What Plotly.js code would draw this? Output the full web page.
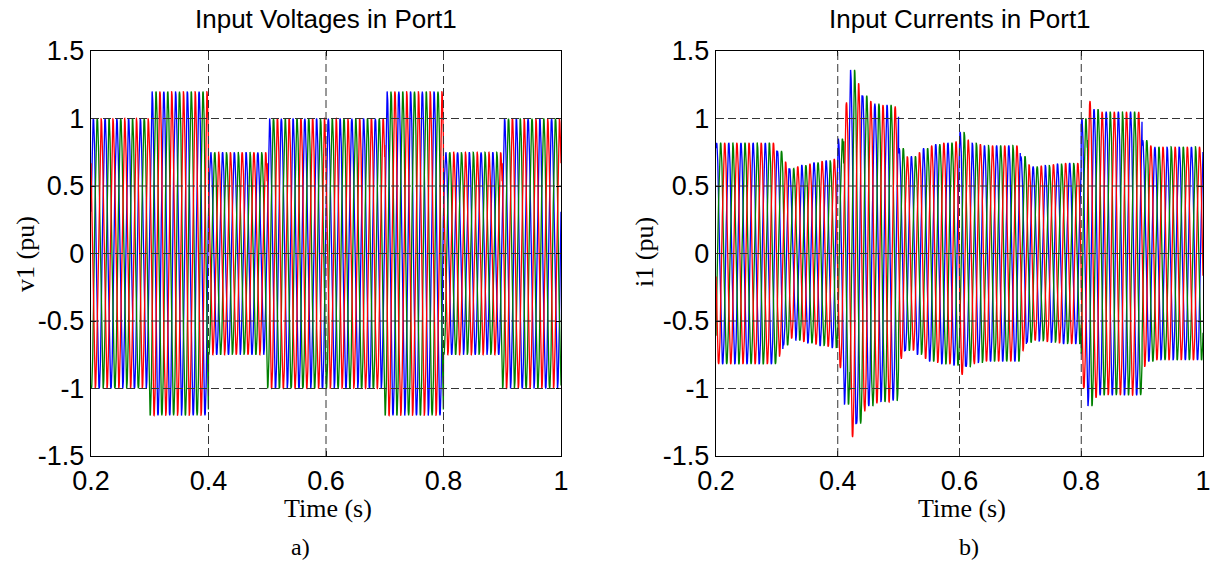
<!DOCTYPE html>
<html>
<head>
<meta charset="utf-8">
<script src="https://cdn.plot.ly/plotly-3.0.1.min.js"></script>
<style>html,body{margin:0;padding:0;background:#fff;}#chart{width:1215px;height:562px;}</style>
</head>
<body>
<div id="chart"></div>
<script>
// ---------------- data ----------------
const phaseNames = ['a', 'b', 'c'];
const phaseColors = ['#0000ff', '#008000', '#ff0000'];
const phaseShiftDeg = [0, -120, 120];
const freqHz = 50;
const timeStart = 0.2;
const timeEnd = 1.0;
const voltPhaseDeg = 18;      // angle of phase a at t = 0 (voltage)
const currPhaseDeg = 72;      // angle of phase a at t = 0 (current)

// Port1 voltage peak (pu), one value per 0.1 s segment starting at voltSegStart
const voltSegStart = [0.2, 0.3, 0.4, 0.5, 0.6, 0.7, 0.8, 0.9];
const voltPeak     = [1.0, 1.2, 0.75, 1.0, 1.0, 1.2, 0.75, 1.0];

// Port1 current peak (pu), one value per 10 ms window starting at 0.2 s
const currWindow = 0.01;
const currPeak = [
  0.82, 0.82, 0.82, 0.82, 0.82, 0.82, 0.82, 0.82, 0.82, 0.82,   // 0.20-0.30
  0.76, 0.68, 0.63, 0.645, 0.655, 0.665, 0.675, 0.685, 0.69, 0.70, // 0.30-0.40
  0.85, 1.12, 1.36, 1.26, 1.17, 1.13, 1.11, 1.10, 1.10, 1.09,   // 0.40-0.50
  0.78, 0.72, 0.72, 0.75, 0.78, 0.80, 0.81, 0.82, 0.82, 0.83,   // 0.50-0.60
  0.90, 0.84, 0.82, 0.81, 0.80, 0.80, 0.80, 0.80, 0.80, 0.80,   // 0.60-0.70
  0.72, 0.66, 0.645, 0.65, 0.655, 0.66, 0.665, 0.67, 0.67, 0.67, // 0.70-0.80
  1.00, 1.13, 1.07, 1.05, 1.05, 1.05, 1.05, 1.05, 1.05, 1.05,   // 0.80-0.90
  0.84, 0.80, 0.79, 0.79, 0.79, 0.79, 0.79, 0.79, 0.79, 0.79    // 0.90-1.00
];

const xTickVals = [0.2, 0.4, 0.6, 0.8, 1.0];
const xTickText = ['0.2', '0.4', '0.6', '0.8', '1'];
const yTickVals = [-1.5, -1, -0.5, 0, 0.5, 1, 1.5];
const yTickText = ['-1.5', '-1', '-0.5', '0', '0.5', '1', '1.5'];
const xGridVals = [0.4, 0.6, 0.8];
const yGridVals = [-1, -0.5, 0, 0.5, 1];

const titleLeft = 'Input Voltages in Port1';
const titleRight = 'Input Currents in Port1';
const yTitleLeft = 'v1 (pu)';
const yTitleRight = 'i1 (pu)';
const xTitle = 'Time (s)';
const panelLabels = ['a)', 'b)'];

// ---------------- build waveforms ----------------
const dt = 0.0002;
const tArr = [];
for (let i = 0; ; i++) { const t = timeStart + i * dt; if (t > timeEnd + 1e-9) break; tArr.push(+t.toFixed(6)); }

function voltAmp(t) {
  let idx = 0;
  for (let k = 0; k < voltSegStart.length; k++) if (t >= voltSegStart[k] - 1e-9) idx = k;
  return voltPeak[idx];
}
function currAmp(t) {
  let idx = Math.floor((t - timeStart) / currWindow + 1e-9);
  idx = Math.max(0, Math.min(currPeak.length - 1, idx));
  return currPeak[idx];
}
function wave(ampFn, baseDeg, p) {
  return tArr.map(t => ampFn(t) * Math.sin((2 * Math.PI * freqHz * t) + (baseDeg + phaseShiftDeg[p]) * Math.PI / 180));
}

const lineW = 1.3;
const traces = [];
for (let p = 0; p < 3; p++) {
  traces.push({x: tArr, y: wave(voltAmp, voltPhaseDeg, p), type: 'scatter', mode: 'lines',
    name: 'v' + phaseNames[p], line: {color: phaseColors[p], width: lineW}, xaxis: 'x', yaxis: 'y', showlegend: false, hoverinfo: 'skip'});
}
for (let p = 0; p < 3; p++) {
  traces.push({x: tArr, y: wave(currAmp, currPhaseDeg, p), type: 'scatter', mode: 'lines',
    name: 'i' + phaseNames[p], line: {color: phaseColors[p], width: lineW}, xaxis: 'x2', yaxis: 'y2', showlegend: false, hoverinfo: 'skip'});
}

// ---------------- layout ----------------
const W = 1215, H = 562;
const px = v => v / W, py = v => 1 - v / H;
const xDomL = [px(91), px(561)], xDomR = [px(716), px(1203)], yDom = [py(456), py(51)];
const sans = 'Liberation Sans, Arial, Helvetica, sans-serif';
const serif = 'Liberation Serif, Times New Roman, serif';

function xAx(dom, anchor) {
  return {domain: dom, anchor: anchor, range: [timeStart, timeEnd], tickmode: 'array', tickvals: xTickVals, ticktext: xTickText,
    ticks: 'inside', ticklen: 5, tickwidth: 1, tickcolor: '#000', showline: true, linecolor: '#000', linewidth: 1.2,
    mirror: 'ticks', showgrid: false, zeroline: false, tickfont: {family: sans, size: 27, color: '#000'}, fixedrange: true};
}
function yAx(anchor) {
  return {domain: yDom, anchor: anchor, range: [-1.5, 1.5], tickmode: 'array', tickvals: yTickVals, ticktext: yTickText,
    ticks: 'inside', ticklen: 5, tickwidth: 1, tickcolor: '#000', showline: true, linecolor: '#000', linewidth: 1.2,
    mirror: 'ticks', showgrid: false, zeroline: false, tickfont: {family: sans, size: 27, color: '#000'}, fixedrange: true};
}

const gridLine = {color: '#333333', width: 1, dash: '8px,4px'};
const shapes = [];
[['x', 'y'], ['x2', 'y2']].forEach(([xa, ya]) => {
  xGridVals.forEach(g => shapes.push({type: 'line', layer: 'above', xref: xa, yref: ya + ' domain', x0: g, x1: g, y0: 0, y1: 1, line: gridLine}));
  yGridVals.forEach(g => shapes.push({type: 'line', layer: 'above', xref: xa + ' domain', yref: ya, x0: 0, x1: 1, y0: g, y1: g, line: gridLine}));
});

const ann = (text, x, y, font, extra) => Object.assign({text: text, xref: 'paper', yref: 'paper', x: px(x), y: py(y),
  xanchor: 'center', yanchor: 'middle', showarrow: false, font: font}, extra || {});
const annotations = [
  ann(titleLeft, 326, 19, {family: sans, size: 26, color: '#000'}),
  ann(titleRight, 959.5, 19, {family: sans, size: 26, color: '#000'}),
  ann(xTitle, 328, 508, {family: serif, size: 26, color: '#000'}),
  ann(xTitle, 962, 508, {family: serif, size: 26, color: '#000'}),
  ann(yTitleLeft, 25, 254, {family: serif, size: 26, color: '#000'}, {textangle: -90}),
  ann(yTitleRight, 644, 252, {family: serif, size: 26, color: '#000'}, {textangle: -90}),
  ann(panelLabels[0], 300, 547, {family: serif, size: 24, color: '#000'}),
  ann(panelLabels[1], 969, 547, {family: serif, size: 24, color: '#000'})
];

const layout = {
  width: W, height: H, margin: {l: 0, r: 0, t: 0, b: 0}, paper_bgcolor: '#fff', plot_bgcolor: '#fff',
  showlegend: false,
  xaxis: xAx(xDomL, 'y'), yaxis: yAx('x'),
  xaxis2: xAx(xDomR, 'y2'), yaxis2: yAx('x2'),
  shapes: shapes, annotations: annotations
};

Plotly.newPlot('chart', traces, layout, {displayModeBar: false, staticPlot: true});
</script>
</body>
</html>
